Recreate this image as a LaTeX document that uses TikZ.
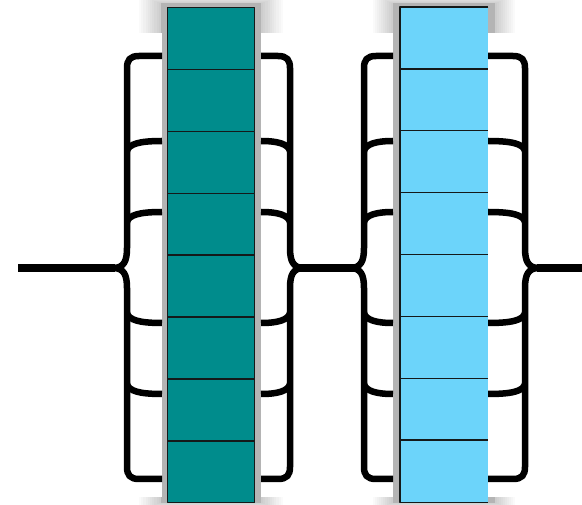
\documentclass[tikz,border=0pt]{standalone}
\definecolor{tealcell}{RGB}{0,140,140}
\definecolor{skycell}{RGB}{108,212,250}
\definecolor{cellrule}{RGB}{20,25,25}
\begin{document}
\begin{tikzpicture}[x=1pt,y=-1pt,line cap=butt,line join=round]
\tikzset{
  bline/.style={line width=6.5pt,black},
  stub/.style={line width=8pt,black},
  tealbox/.style={draw=cellrule,fill=tealcell,line width=1.4pt,inner sep=0pt,
    minimum width=87pt,minimum height=61.875pt,anchor=north west},
  skybox/.style={fill=skycell,inner sep=0pt,
    minimum width=88pt,minimum height=61.875pt,anchor=north west},
}
\useasboundingbox (0,0) rectangle (582,505);
\fill[white] (0,0) rectangle (582,505);

% soft shadows behind the two columns
\foreach \l/\r/\e in {161/261/22, 393/495/20} {
  \fill[black,opacity=0.12] (\l,3) rectangle (\r,503);
  \foreach \i in {1,...,10}
    \fill[black,opacity=0.02] ({\l-\e*\i/10},{4-\i}) rectangle ({\r+\e*\i/10},{502+\i});
}
% the brace areas sit on plain white
\fill[white] (95,33) rectangle (161.5,497);
\fill[white] (260.5,33) rectangle (393,497);
\fill[white] (488,33) rectangle (560,497);

% braces: vertical x, arm end x
\foreach \vx/\ex in {127/162, 290/261, 364/393, 525/488} {
  \pgfmathsetmacro\s{sign(\ex-\vx)}
  \draw[bline] (\ex,56) -- ({\vx+12*\s},56) .. controls ({\vx+3*\s},56) and (\vx,60) .. (\vx,68)
     -- (\vx,248) .. controls (\vx,261) and ({\vx-3*\s},268) .. ({\vx-14*\s},268);
  \draw[bline] (\ex,479) -- ({\vx+12*\s},479) .. controls ({\vx+3*\s},479) and (\vx,475) .. (\vx,467)
     -- (\vx,288) .. controls (\vx,275) and ({\vx-3*\s},268) .. ({\vx-14*\s},268);
  \foreach \y in {141,212}
    \draw[bline] (\ex,\y) .. controls ({\vx+12*\s},\y) and ({\vx+2*\s},{\y+3}) .. (\vx,{\y+10});
  \foreach \y in {323,394}
    \draw[bline] (\ex,\y) .. controls ({\vx+12*\s},\y) and ({\vx+2*\s},{\y-3}) .. (\vx,{\y-10});
}

% connecting lines
\coordinate (in) at (18,268);
\coordinate (out) at (582,268);
\coordinate (tipA) at (115,268);
\coordinate (midA) at (300,268);
\coordinate (midB) at (354,268);
\coordinate (tipB) at (537,268);
\draw[stub] (in) -- (tipA);
\draw[stub] (midA) -- (midB);
\draw[stub] (tipB) -- (out);

% first column
\foreach \i in {0,...,7}
  \node[tealbox] (a\i) at (167,{7+61.875*\i}) {};

% second column
\foreach \i in {0,...,7}
  \node[skybox] (b\i) at (400,{7+61.875*\i}) {};
\foreach \i in {1,...,7}
  \draw[cellrule,line width=1.4pt] (b\i.north west) -- (b\i.north east);
\draw[cellrule,line width=1.4pt] (b0.north east) -- (b0.north west) -- (b7.south west) -- (b7.south east);
\end{tikzpicture}
\end{document}
